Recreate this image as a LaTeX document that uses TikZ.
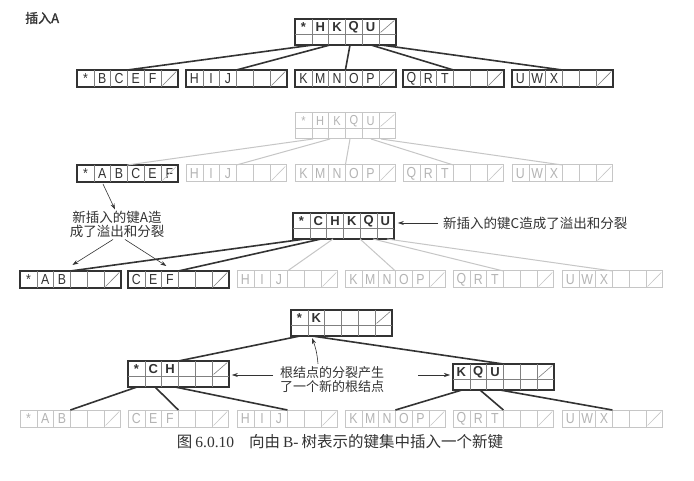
\documentclass[tikz,border=0pt]{standalone}
\usepackage{fontspec}
\setmainfont{Liberation Serif}
\setsansfont{Liberation Sans}
\newfontfamily\narrowsans{Liberation Sans}[FakeStretch=0.85]
\newfontfamily\cjk{Noto Sans CJK SC}
\newfontfamily\cjkb{Noto Sans CJK SC}[FakeBold=1.5]
\usetikzlibrary{calc,arrows.meta}
\definecolor{ink}{HTML}{333333}
\definecolor{inkdiv}{HTML}{808080}
\definecolor{pale}{HTML}{C6C6C6}
\definecolor{paletext}{HTML}{B4B4B4}
\tikzset{
  cellbox/.style={rectangle, minimum width=100.8pt, minimum height=17pt, inner sep=0pt, outer sep=0pt},
  boxdark/.style={cellbox, draw=ink, line width=1.5pt},
  boxpale/.style={cellbox, draw=pale, line width=1pt},
  divdark/.style={draw=inkdiv, line width=0.6pt},
  divpale/.style={draw=pale, line width=0.6pt},
  labdark/.style={inner sep=0pt, text=ink, font=\narrowsans\fontsize{14.5}{14.5}\selectfont},
  labdarkb/.style={inner sep=0pt, text=ink, font=\sffamily\bfseries\fontsize{13}{13}\selectfont},
  labpale/.style={inner sep=0pt, text=paletext, font=\narrowsans\fontsize{14.5}{14.5}\selectfont},
  labpaleb/.style={inner sep=0pt, text=paletext, font=\narrowsans\fontsize{13}{13}\selectfont},
  ptrdark/.style={draw=ink, line width=1.6pt},
  ptrpale/.style={draw=pale, line width=1pt},
  arr/.style={draw=ink, line width=0.6pt, -{Stealth[length=6pt,width=4pt]}},
  note/.style={inner sep=0pt, align=center, text=ink, font=\cjk\fontsize{13.5}{14}\selectfont},
}
% leaf: name, x, y, tone, letters
\newcommand\leafbox[5]{%
  \node[box#4] (#1) at ({#2+50.4},{#3+8.5}) {};
  \foreach \k in {1,...,5}{\draw[div#4] ($(#1.north west)+(\k*16.8,0)$) -- ++(0,17);}
  \foreach \t [count=\k] in {#5}{\node[lab#4] (#1-\k) at ($(#1.north west)+(\k*16.8-8.4,8.8)$) {\t};}
}
% internal: name, x, y, tone, letters
\newcommand\inbox[5]{%
  \node[box#4, minimum height=26pt] (#1) at ({#2+50.4},{#3+13}) {};
  \draw[div#4] ($(#1.north west)+(0,15)$) -- ++(100.8,0);
  \foreach \k in {1,...,5}{\draw[div#4] ($(#1.north west)+(\k*16.8,0)$) -- ++(0,26);}
  \foreach \t [count=\k] in {#5}{\node[lab#4b] (#1-\k) at ($(#1.north west)+(\k*16.8-8.4,7.8)$) {\t};}
}
% slash in last top cell: name, tone, row height
\newcommand\cslash[3]{\draw[div#2] ($(#1.north west)+(5*16.8+1.5,#3-1.5)$) -- ($(#1.north west)+(6*16.8-1.5,1.5)$);}
% pointer: from, offset, to, tone
\newcommand\ptr[4]{\draw[ptr#4] ($(#1.south west)+(#2,0)$) -- (#3.north);}
\begin{document}
\begin{tikzpicture}[x=1pt,y=-1pt]
\useasboundingbox (0,0) rectangle (694,481);
\fill[white] (0,0) rectangle (694,481);

\node[anchor=west, inner sep=0pt, text=ink, font=\cjkb\fontsize{13}{13}\selectfont] (title) at (25,18) {插入A};

% ---------- diagram 1 ----------
\inbox{Ra}{295}{19}{dark}{*,H,K,Q,U}\cslash{Ra}{dark}{15}
\leafbox{La1}{77}{70}{dark}{*,B,C,E,F}\cslash{La1}{dark}{17}
\leafbox{La2}{186}{70}{dark}{H,I,J}\cslash{La2}{dark}{17}
\leafbox{La3}{295}{70}{dark}{K,M,N,O,P}\cslash{La3}{dark}{17}
\leafbox{La4}{403}{70}{dark}{Q,R,T}\cslash{La4}{dark}{17}
\leafbox{La5}{512}{70}{dark}{U,W,X}\cslash{La5}{dark}{17}
\ptr{Ra}{18}{La1}{dark}
\ptr{Ra}{35}{La2}{dark}
\ptr{Ra}{55}{La3}{dark}
\ptr{Ra}{76}{La4}{dark}
\ptr{Ra}{86}{La5}{dark}

% ---------- diagram 2 ----------
\inbox{Rb}{295}{113}{pale}{*,H,K,Q,U}\cslash{Rb}{pale}{15}
\leafbox{Lb1}{77}{165}{dark}{*,A,B,C,E,F}\cslash{Lb1}{pale}{17}
\leafbox{Lb2}{186}{165}{pale}{H,I,J}\cslash{Lb2}{pale}{17}
\leafbox{Lb3}{295}{165}{pale}{K,M,N,O,P}\cslash{Lb3}{pale}{17}
\leafbox{Lb4}{403}{165}{pale}{Q,R,T}\cslash{Lb4}{pale}{17}
\leafbox{Lb5}{512}{165}{pale}{U,W,X}\cslash{Lb5}{pale}{17}
\ptr{Rb}{18}{Lb1}{pale}
\ptr{Rb}{35}{Lb2}{pale}
\ptr{Rb}{55}{Lb3}{pale}
\ptr{Rb}{76}{Lb4}{pale}
\ptr{Rb}{86}{Lb5}{pale}

\node[note] (noteA) at (117,224) {新插入的键A造\\成了溢出和分裂};
\draw[arr] ($(Lb1.south west)+(26,2)$) -- ($(noteA.north)+(-2,-1)$);

% ---------- diagram 3 ----------
\inbox{Rc}{293}{213}{dark}{*,C,H,K,Q,U}
\leafbox{Lc1}{20}{271}{dark}{*,A,B}\cslash{Lc1}{dark}{17}
\leafbox{Lc2}{128}{271}{dark}{C,E,F}\cslash{Lc2}{dark}{17}
\leafbox{Lc3}{237}{271}{pale}{H,I,J}\cslash{Lc3}{pale}{17}
\leafbox{Lc4}{345}{271}{pale}{K,M,N,O,P}\cslash{Lc4}{pale}{17}
\leafbox{Lc5}{453}{271}{pale}{Q,R,T}\cslash{Lc5}{pale}{17}
\leafbox{Lc6}{562}{271}{pale}{U,W,X}\cslash{Lc6}{pale}{17}
\ptr{Rc}{40}{Lc3}{pale}
\ptr{Rc}{67}{Lc4}{pale}
\ptr{Rc}{80}{Lc5}{pale}
\ptr{Rc}{94}{Lc6}{pale}
\ptr{Rc}{12}{Lc1}{dark}
\ptr{Rc}{28}{Lc2}{dark}

\draw[arr] ($(noteA.south)+(-4,2)$) -- ($(Lc1.north)+(2,-6)$);
\draw[arr] ($(noteA.south)+(8,2)$) -- ($(Lc2.north)+(-12,-5)$);

\node[note, anchor=west] (noteC) at (443,223) {新插入的键C造成了溢出和分裂};
\coordinate (cS) at ($(noteC.west)+(-5,0)$);
\draw[arr] (cS) -- ($(Rc.east |- cS)+(4,0)$);

% ---------- diagram 4 ----------
\inbox{Rd}{291}{310}{dark}{*,K}\cslash{Rd}{dark}{15}
\inbox{Na}{128}{361}{dark}{*,C,H}\cslash{Na}{dark}{15}
\inbox{Nb}{453}{364}{dark}{K,Q,U}\cslash{Nb}{dark}{15}
\leafbox{Ld1}{20}{410}{pale}{*,A,B}\cslash{Ld1}{pale}{17}
\leafbox{Ld2}{128}{410}{pale}{C,E,F}\cslash{Ld2}{pale}{17}
\leafbox{Ld3}{237}{410}{pale}{H,I,J}\cslash{Ld3}{pale}{17}
\leafbox{Ld4}{345}{410}{pale}{K,M,N,O,P}\cslash{Ld4}{pale}{17}
\leafbox{Ld5}{453}{410}{pale}{Q,R,T}\cslash{Ld5}{pale}{17}
\leafbox{Ld6}{562}{410}{pale}{U,W,X}\cslash{Ld6}{pale}{17}
\ptr{Rd}{9}{Na}{dark}
\ptr{Rd}{21}{Nb}{dark}
\ptr{Na}{9}{Ld1}{dark}
\ptr{Na}{27}{Ld2}{dark}
\ptr{Na}{47}{Ld3}{dark}
\ptr{Nb}{9}{Ld4}{dark}
\ptr{Nb}{27}{Ld5}{dark}
\ptr{Nb}{47}{Ld6}{dark}

\node[note, font=\cjk\fontsize{13}{14}\selectfont] (noteR) at (332,380) {根结点的分裂产生\\了一个新的根结点};
\coordinate (rL) at (273,375);
\coordinate (rR) at (418,375);
\draw[arr] (rL) -- ($(Na.east |- rL)+(3,0)$);
\draw[arr] (rR) -- ($(Nb.west |- rR)+(-3,0)$);
\draw[arr] ($(noteR.north)+(-14,-3)$) to[bend right=8] ($(Rd.south west)+(21,2)$);

\node[inner sep=0pt, text=ink, font=\fontsize{15.5}{16}\selectfont] (cap) at (340,442)
  {{\cjk 图}\hspace{3pt}6.0.10\hspace{15pt}{\cjk 向由}\hspace{3pt}B-\hspace{3pt}{\cjk 树表示的键集中插入一个新键}};
\end{tikzpicture}
\end{document}
